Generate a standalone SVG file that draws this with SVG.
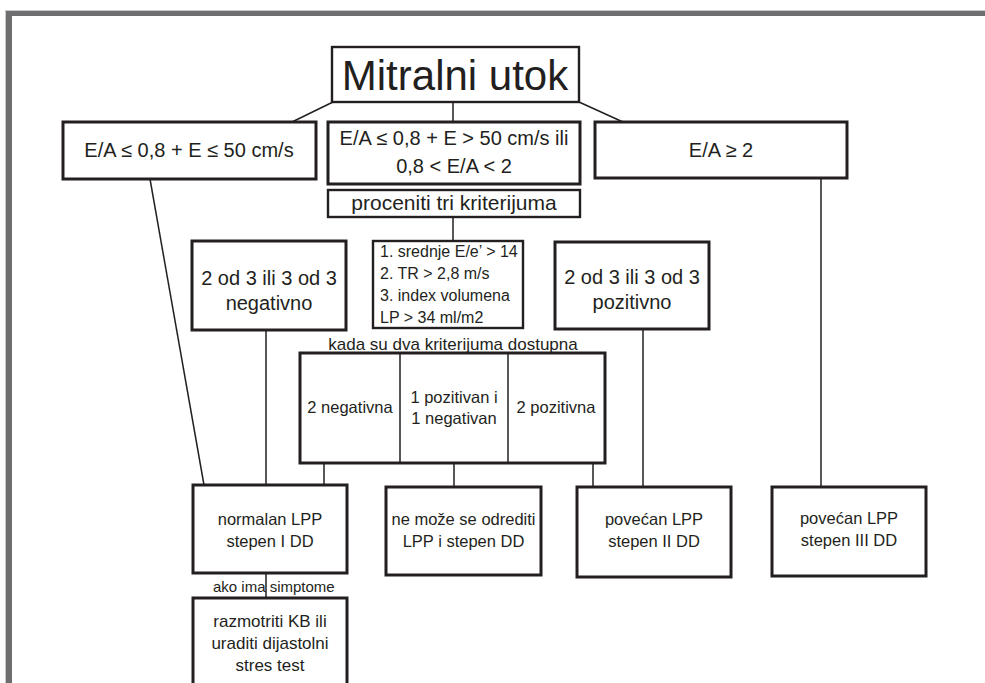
<svg xmlns="http://www.w3.org/2000/svg" width="985" height="683" viewBox="0 0 985 683">
<style>
  text { font-family: "Liberation Sans", Arial, sans-serif; fill: #231f20; }
  .box { fill: #ffffff; stroke: #231f20; stroke-width: 3; }
  .thin { fill: #ffffff; stroke: #231f20; stroke-width: 2.4; }
  .c { text-anchor: middle; }
  .conn line { stroke: #231f20; stroke-width: 1.5; }
  .t20 { font-size: 20px; }
  .t21 { font-size: 21px; }
  .t16 { font-size: 16px; }
  .t165 { font-size: 16.5px; }
  .t17 { font-size: 17px; }
  .t15 { font-size: 15px; }
</style>
<rect x="0" y="0" width="985" height="683" fill="#ffffff"/>
<g id="frame">
  <rect x="5.5" y="10.5" width="980" height="673" fill="none" stroke="#c9c9c9" stroke-width="1"/>
  <rect x="6" y="11" width="979" height="5" fill="#6e6e70"/>
  <rect x="6" y="11" width="6" height="672" fill="#6e6e70"/>
</g>
<g id="connectors" class="conn">
  <line x1="333" y1="102" x2="292" y2="122"/>
  <line x1="453" y1="102" x2="453" y2="122"/>
  <line x1="579" y1="102" x2="623" y2="122"/>
  <line x1="150" y1="179" x2="204" y2="485"/>
  <line x1="821" y1="178" x2="821" y2="487"/>
  <line x1="453" y1="217" x2="453" y2="241"/>
  <line x1="266" y1="330" x2="266" y2="485"/>
  <line x1="643" y1="329" x2="643" y2="487"/>
  <line x1="324" y1="463" x2="324" y2="485"/>
  <line x1="454" y1="463" x2="454" y2="487"/>
  <line x1="593" y1="463" x2="593" y2="487"/>
  <line x1="266" y1="573" x2="266" y2="598"/>
</g>
<g id="title">
  <rect class="thin" x="332" y="47" width="247" height="55"/>
  <text class="c" x="455" y="90" font-size="42">Mitralni utok</text>
</g>
<g id="left-box">
  <rect class="box" x="63" y="122" width="253" height="57"/>
  <text class="c t20" x="189" y="157">E/A ≤ 0,8 + E ≤ 50 cm/s</text>
</g>
<g id="middle-box">
  <rect class="box" x="328" y="122" width="252" height="62"/>
  <text class="c t20" x="454" y="145">E/A ≤ 0,8 + E &gt; 50 cm/s ili</text>
  <text class="c t20" x="454" y="173">0,8 &lt; E/A &lt; 2</text>
</g>
<g id="right-box">
  <rect class="box" x="595" y="122" width="252" height="56"/>
  <text class="c t20" x="721" y="157">E/A ≥ 2</text>
</g>
<g id="proceniti">
  <rect class="thin" x="328" y="190" width="252" height="27"/>
  <text class="c t21" x="454" y="210">proceniti tri kriterijuma</text>
</g>
<g id="negativno">
  <rect class="box" x="192" y="241" width="154" height="89"/>
  <text class="c t20" x="269" y="285">2 od 3 ili 3 od 3</text>
  <text class="c t20" x="269" y="310">negativno</text>
</g>
<g id="kriteriji">
  <rect class="thin" x="373" y="241" width="150" height="87"/>
  <text class="t16" x="380" y="257">1. srednje E/e’ &gt; 14</text>
  <text class="t16" x="380" y="279">2. TR &gt; 2,8 m/s</text>
  <text class="t16" x="380" y="301">3. index volumena</text>
  <text class="t16" x="380" y="323">LP &gt; 34 ml/m2</text>
</g>
<g id="pozitivno">
  <rect class="box" x="555" y="242" width="154" height="87"/>
  <text class="c t20" x="632" y="284">2 od 3 ili 3 od 3</text>
  <text class="c t20" x="632" y="309">pozitivno</text>
</g>
<g id="dva-kriterijuma">
  <text class="c t17" x="453" y="350">kada su dva kriterijuma dostupna</text>
  <rect class="box" x="300" y="353" width="305" height="110"/>
  <line x1="400" y1="353" x2="400" y2="463" stroke="#231f20" stroke-width="1.5"/>
  <line x1="508" y1="353" x2="508" y2="463" stroke="#231f20" stroke-width="1.5"/>
  <text class="c t165" x="350" y="413">2 negativna</text>
  <text class="c t165" x="454" y="403">1 pozitivan i</text>
  <text class="c t165" x="454" y="424">1 negativan</text>
  <text class="c t165" x="556" y="413">2 pozitivna</text>
</g>
<g id="normalan">
  <rect class="box" x="193" y="485" width="154" height="88"/>
  <text class="c t165" x="270" y="525">normalan LPP</text>
  <text class="c t165" x="270" y="547">stepen I DD</text>
</g>
<g id="ne-moze">
  <rect class="box" x="386" y="487" width="155" height="88"/>
  <text class="c t165" x="463.5" y="525">ne može se odrediti</text>
  <text class="c t165" x="463.5" y="547">LPP i stepen DD</text>
</g>
<g id="povecan-ii">
  <rect class="box" x="577" y="487" width="154" height="90"/>
  <text class="c t165" x="654" y="525">povećan LPP</text>
  <text class="c t165" x="654" y="547">stepen II DD</text>
</g>
<g id="povecan-iii">
  <rect class="box" x="772" y="487" width="154" height="89"/>
  <text class="c t165" x="849" y="524">povećan LPP</text>
  <text class="c t165" x="849" y="546">stepen III DD</text>
</g>
<g id="simptome-label">
  <text class="t15" x="213" y="592">ako ima simptome</text>
</g>
<g id="kb">
  <rect class="box" x="193" y="598" width="154" height="100"/>
  <text class="c t17" x="270" y="627">razmotriti KB ili</text>
  <text class="c t17" x="270" y="649">uraditi dijastolni</text>
  <text class="c t17" x="270" y="671">stres test</text>
</g>
</svg>
